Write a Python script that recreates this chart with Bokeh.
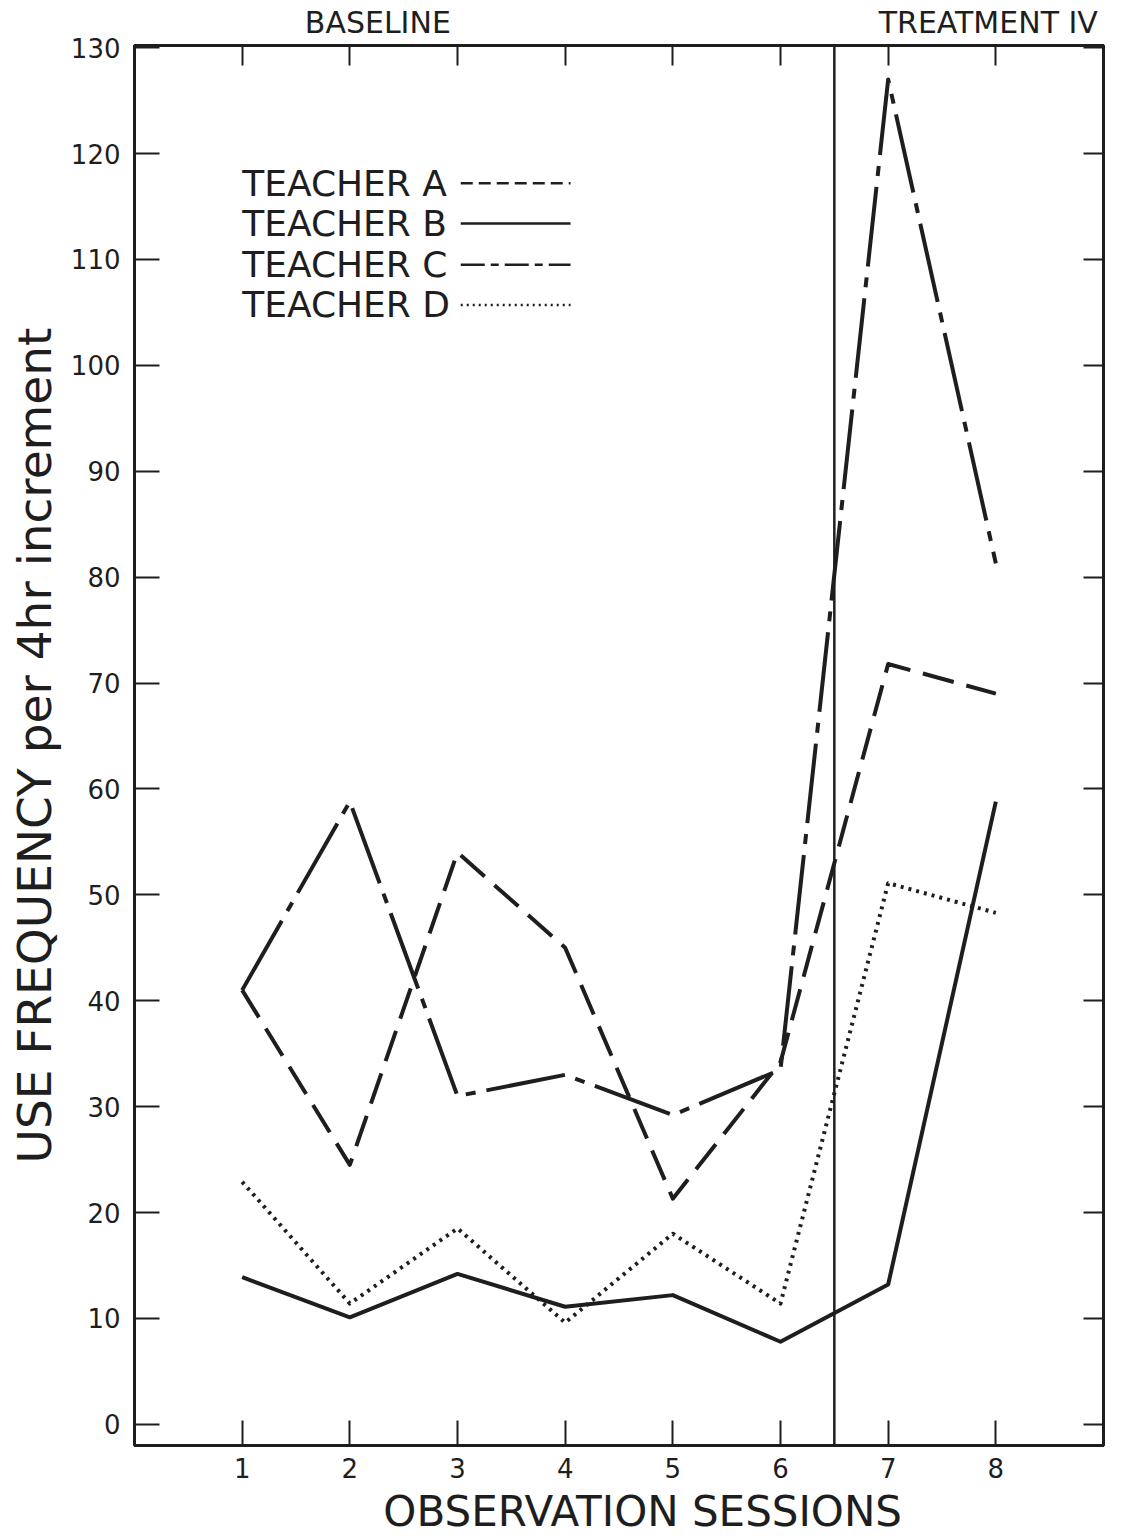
from bokeh.plotting import figure
from bokeh.models import Range1d, LinearAxis, FixedTicker, Span, Label
from bokeh.embed import file_html
from bokeh.resources import INLINE

# ---- data ----
sessions = [1, 2, 3, 4, 5, 6, 7, 8]
teacher_a = [41.0, 24.5, 54.0, 45.0, 21.3, 34.2, 71.8, 69.0]
teacher_b = [13.9, 10.1, 14.2, 11.1, 12.2, 7.8, 13.2, 58.8]
teacher_c = [41.0, 58.8, 31.0, 33.0, 29.2, 33.5, 127.0, 81.3]
teacher_d = [22.9, 11.4, 18.5, 9.6, 18.0, 11.4, 51.1, 48.3]
y_ticks = [0, 10, 20, 30, 40, 50, 60, 70, 80, 90, 100, 110, 120, 130]
phase_split = 6.5
legend_labels = ["TEACHER A", "TEACHER B", "TEACHER C", "TEACHER D"]
phase_labels = ["BASELINE", "TREATMENT IV"]
phase_label_pos = [2.26, 7.93]
x_title = "OBSERVATION SESSIONS"
x_title_pos = 4.72
y_title = "USE FREQUENCY per 4hr increment"

FONT = "DejaVu Sans"
INK = "#1e1e1e"

p = figure(width=1135, height=1538,
           x_range=Range1d(0, 9), y_range=Range1d(-2.0, 130.2),
           output_backend="svg", toolbar_location=None,
           min_border_left=134, min_border_right=32,
           min_border_top=45, min_border_bottom=91)
p.xgrid.visible = False
p.ygrid.visible = False
p.outline_line_color = INK
p.outline_line_width = 3
p.background_fill_color = "white"
p.border_fill_color = "white"

def style_axis(ax, tick_len):
    ax.axis_line_color = INK
    ax.axis_line_width = 3
    ax.major_tick_in = tick_len
    ax.major_tick_out = 0
    ax.major_tick_line_color = INK
    ax.major_tick_line_width = 2
    ax.minor_tick_line_color = None
    ax.major_label_text_font = FONT
    ax.major_label_text_color = INK
    ax.major_label_text_font_size = "26px"
    ax.major_label_standoff = 14
    ax.axis_label_text_font = FONT
    ax.axis_label_text_font_style = "normal"
    ax.axis_label_text_color = INK

def label_only_axis(ticks, labels, size, standoff):
    ax = LinearAxis(ticker=FixedTicker(ticks=ticks),
                    major_label_overrides=dict(zip(ticks, labels)))
    ax.axis_line_color = None
    ax.major_tick_line_color = None
    ax.minor_tick_line_color = None
    ax.major_label_text_font = FONT
    ax.major_label_text_color = INK
    ax.major_label_text_font_size = size
    ax.major_label_standoff = standoff
    return ax

p.xaxis.ticker = FixedTicker(ticks=sessions)
p.yaxis.ticker = FixedTicker(ticks=y_ticks)
style_axis(p.xaxis[0], 25)
style_axis(p.yaxis[0], 25)
p.xaxis.major_label_standoff = 12
p.yaxis.axis_label = y_title
p.yaxis.axis_label_text_font_size = "47px"
p.yaxis.axis_label_standoff = 6

# x title placed as a label-only axis below the session numbers
p.add_layout(label_only_axis([x_title_pos], [x_title], "42px", 0), "below")

# tick-only axes on top and right (ticks pointing inward, no labels)
top_ax = LinearAxis(ticker=FixedTicker(ticks=sessions),
                    major_label_overrides={t: "" for t in sessions})
style_axis(top_ax, 20)
top_ax.major_label_standoff = 0
p.add_layout(top_ax, "above")
right_ax = LinearAxis(ticker=FixedTicker(ticks=y_ticks),
                      major_label_overrides={t: "" for t in y_ticks})
style_axis(right_ax, 20)
right_ax.major_label_standoff = 0
p.add_layout(right_ax, "right")

# phase names above the frame
p.add_layout(label_only_axis(phase_label_pos, phase_labels, "30px", 0), "above")

# phase separator
p.add_layout(Span(location=phase_split, dimension="height",
                  line_color=INK, line_width=2.5))

styles = [
    (teacher_a, "32 13"),
    (teacher_b, "solid"),
    (teacher_c, "80 11 10 11"),
    (teacher_d, "3 5"),
]
for vals, dash in styles:
    p.line(sessions, vals, line_color=INK, line_width=4, line_dash=dash,
           line_join="round")

# legend drawn by hand: label followed by line sample
legend_y = [117.2, 113.4, 109.5, 105.7]
leg_dash = ["12 6", "solid", "24 6 8 6", "2 4"]
for lab, yy, dash in zip(legend_labels, legend_y, leg_dash):
    p.add_layout(Label(x=1.0, y=yy, text=lab, text_font=FONT,
                       text_font_size="36px", text_color=INK,
                       text_align="left", text_baseline="middle"))
    p.line([3.03, 4.05], [yy, yy], line_color=INK, line_width=2.5,
           line_dash=dash)

open("out.html", "w").write(file_html(p, INLINE))
